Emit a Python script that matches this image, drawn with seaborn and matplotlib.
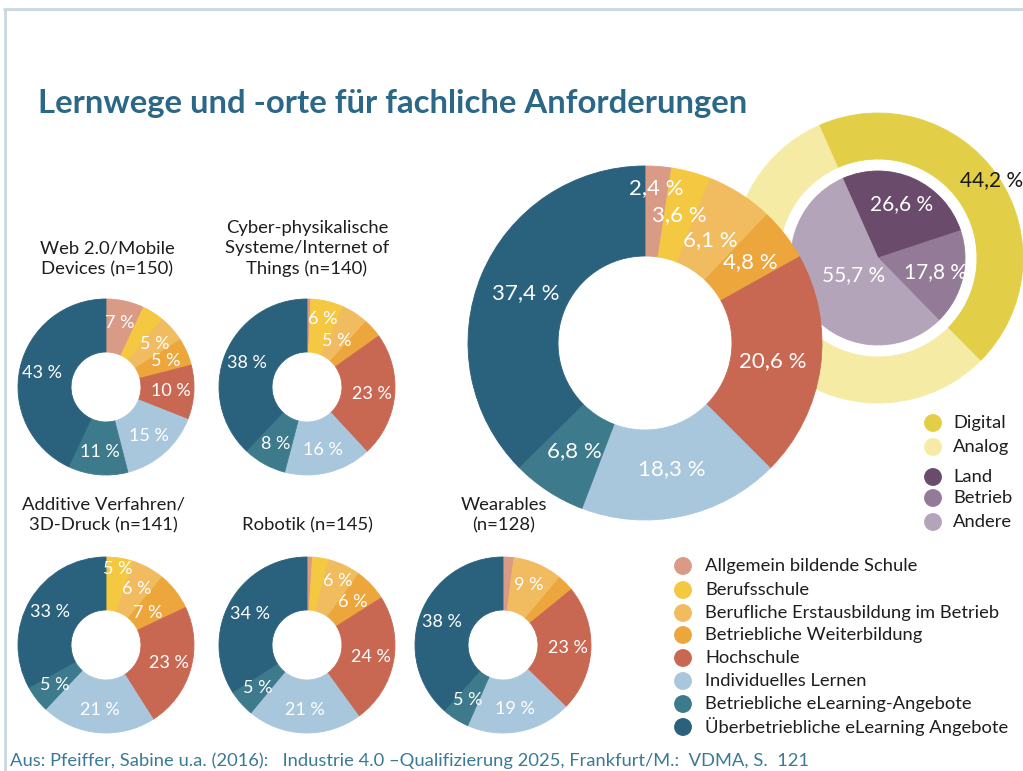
import matplotlib
matplotlib.use("Agg")
import matplotlib.pyplot as plt
import numpy as np
import seaborn as sns

W, H, DPI = 1023, 771, 100

sns.set_theme(style="white")
plt.rcParams["font.family"] = ["Lato", "DejaVu Sans"]

# ---------------------------------------------------------------- data
categories = [
    "Allgemein bildende Schule",
    "Berufsschule",
    "Berufliche Erstausbildung im Betrieb",
    "Betriebliche Weiterbildung",
    "Hochschule",
    "Individuelles Lernen",
    "Betriebliche eLearning-Angebote",
    "Überbetriebliche eLearning Angebote",
]
category_hex = ["#d99a86", "#f5c842", "#f1bb5f", "#eca63b",
                "#c96852", "#a9c7dc", "#3d7a8c", "#2a617d"]

overall = [2.4, 3.6, 6.1, 4.8, 20.6, 18.3, 6.8, 37.4]

web_mobile = [7, 4, 5, 5, 10, 15, 11, 43]
cps_iot = [0.7, 6, 5, 3.5, 23, 16, 8, 38]
additive = [0, 5, 6, 7, 23, 21, 5, 33]
robotik = [1, 3, 6, 6, 24, 21, 5, 34]
wearables = [2, 0, 9, 3, 23, 19, 5, 38]

panel_titles = [
    "Web 2.0/Mobile\nDevices (n=150)",
    "Cyber-physikalische\nSysteme/Internet of\nThings (n=140)",
    "Additive Verfahren/\n3D-Druck (n=141)",
    "Robotik (n=145)",
    "Wearables\n(n=128)",
]

mode_names = ["Digital", "Analog"]
mode_shares = [44.2, 55.8]
mode_hex = ["#e2cf47", "#f5eba5"]

origin_names = ["Land", "Betrieb", "Andere"]
origin_shares = [26.6, 17.8, 55.7]
origin_hex = ["#6a4b6c", "#937b98", "#b3a4b9"]

title = "Lernwege und -orte für fachliche Anforderungen"
source = ("Aus: Pfeiffer, Sabine u.a. (2016):   Industrie 4.0 \u2013Qualifizierung 2025, "
          "Frankfurt/M.:  VDMA, S.  121")

palette = sns.color_palette(category_hex)
mode_pal = sns.color_palette(mode_hex)
origin_pal = sns.color_palette(origin_hex)

TEAL = "#2b6887"

fig = plt.figure(figsize=(W / DPI, H / DPI), dpi=DPI)
fig.patch.set_facecolor("white")

# overlay axes in pixel coordinates for frame, texts and legends
base = fig.add_axes([0, 0, 1, 1])
base.set_xlim(0, W)
base.set_ylim(H, 0)
base.axis("off")


def px_axes(cx, cy, r):
    return fig.add_axes([(cx - r) / W, 1 - (cy + r) / H, 2 * r / W, 2 * r / H])


def finish(ax):
    ax.set_xlim(-1, 1)
    ax.set_ylim(-1, 1)
    ax.set_aspect("equal")
    ax.axis("off")


def ring(ax, values, colors, outer=1.0, width=0.6, start=90):
    wedges, _ = ax.pie(values, colors=colors, startangle=start,
                       counterclock=False, radius=outer,
                       wedgeprops=dict(width=width, linewidth=0.6))
    for w in wedges:
        w.set_edgecolor(w.get_facecolor())
    return wedges


def put_labels(ax, wedges, texts, radius, size, color="white", radius_map=None):
    radius_map = radius_map or {}
    for i, (w, t) in enumerate(zip(wedges, texts)):
        if not t:
            continue
        a = np.deg2rad((w.theta1 + w.theta2) / 2)
        r = radius_map.get(i, radius)
        ax.text(r * np.cos(a), r * np.sin(a), t, ha="center", va="center",
                fontsize=size, color=color)


def pct(v, decimals=0):
    return f"{v:.{decimals}f} %".replace(".", ",")


# ---------------------------------------------------------------- frame
base.plot([3, W], [9, 9], color="#cbd8e1", lw=2, solid_capstyle="butt")
base.plot([5, 5], [9, H], color="#cbd8e1", lw=2, solid_capstyle="butt")

# ---------------------------------------------------------------- title
t_title = base.text(38, 103, title, ha="left", va="center", fontsize=22,
                    fontweight="bold", color=TEAL)

# ---------------------------------------------------------------- Digital / Analog ring + origin pie
RC = (878, 258)
ax_ring = px_axes(RC[0], RC[1], 145)
w_mode = ring(ax_ring, mode_shares, mode_pal, outer=1.0, width=46 / 145, start=114)
finish(ax_ring)
a = np.deg2rad((w_mode[0].theta1 + w_mode[0].theta2) / 2)
ax_ring.text(0.95 * np.cos(a), 0.95 * np.sin(a), pct(mode_shares[0], 1),
             ha="center", va="center", fontsize=15, color="#1a1a1a")

ax_origin = px_axes(RC[0], RC[1], 87)
w_origin, _ = ax_origin.pie(origin_shares, colors=origin_pal, startangle=114,
                            counterclock=False, radius=1.0,
                            wedgeprops=dict(linewidth=0.6))
for w in w_origin:
    w.set_edgecolor(w.get_facecolor())
finish(ax_origin)
put_labels(ax_origin, w_origin, [pct(v, 1) for v in origin_shares], 0.68, 15,
           radius_map={2: 0.34})

# ---------------------------------------------------------------- overall donut
ax_big = px_axes(645, 343, 177)
w_big = ring(ax_big, overall, palette, outer=1.0, width=1 - 87 / 177)
finish(ax_big)
put_labels(ax_big, w_big, [pct(v, 1) for v in overall], 0.73, 16,
           radius_map={0: 0.88, 1: 0.75, 2: 0.69, 3: 0.75})

# ---------------------------------------------------------------- small donuts
small = [
    (web_mobile, (106, 387), {}),
    (cps_iot, (307, 387), {1: 0.79, 2: 0.62}),
    (additive, (106, 645), {1: 0.87, 2: 0.73, 3: 0.60}),
    (robotik, (307, 645), {2: 0.81, 3: 0.71}),
    (wearables, (503, 645), {}),
]
for values, (cx, cy), rmap in small:
    ax = px_axes(cx, cy, 88)
    wedges = ring(ax, values, palette, outer=1.0, width=1 - 35 / 88)
    finish(ax)
    labels = [pct(v) if v >= 4.5 else "" for v in values]
    put_labels(ax, wedges, labels, 0.74, 13, radius_map=rmap)

title_pos = [(107, 274), (307, 274), (103, 530), (307, 530), (504, 530)]
for txt, (x, y) in zip(panel_titles, title_pos):
    base.text(x, y, txt, ha="center", va="baseline", fontsize=13.3,
              color="#1e1e1e", linespacing=1.32, multialignment="center")

# ---------------------------------------------------------------- legends
leg_y = [566, 590, 613, 635, 658, 681, 704, 727]
for name, col, y in zip(categories, palette, leg_y):
    base.scatter([683], [y], s=165, color=col, edgecolors="none")
    base.text(705, y, name, ha="left", va="center", fontsize=13.2, color="#1e1e1e")

right_names = mode_names + origin_names
right_cols = list(mode_pal) + list(origin_pal)
right_y = [423, 447, 477, 498, 522]
for name, col, y in zip(right_names, right_cols, right_y):
    base.scatter([933], [y], s=165, color=col, edgecolors="none")
    base.text(953, y, name, ha="left", va="center", fontsize=13.2, color="#1e1e1e")

# ---------------------------------------------------------------- source line
t_src = base.text(10, 761, source, ha="left", va="center", fontsize=12.5,
                  color="#3a7a96")

# scale the title and source so they span their intended widths
renderer = fig.canvas.get_renderer()
for t, target in [(t_title, 710), (t_src, 802)]:
    bb = t.get_window_extent(renderer)
    t.set_fontsize(t.get_fontsize() * target / bb.width)

fig.savefig("out.png", dpi=DPI, facecolor="white")
